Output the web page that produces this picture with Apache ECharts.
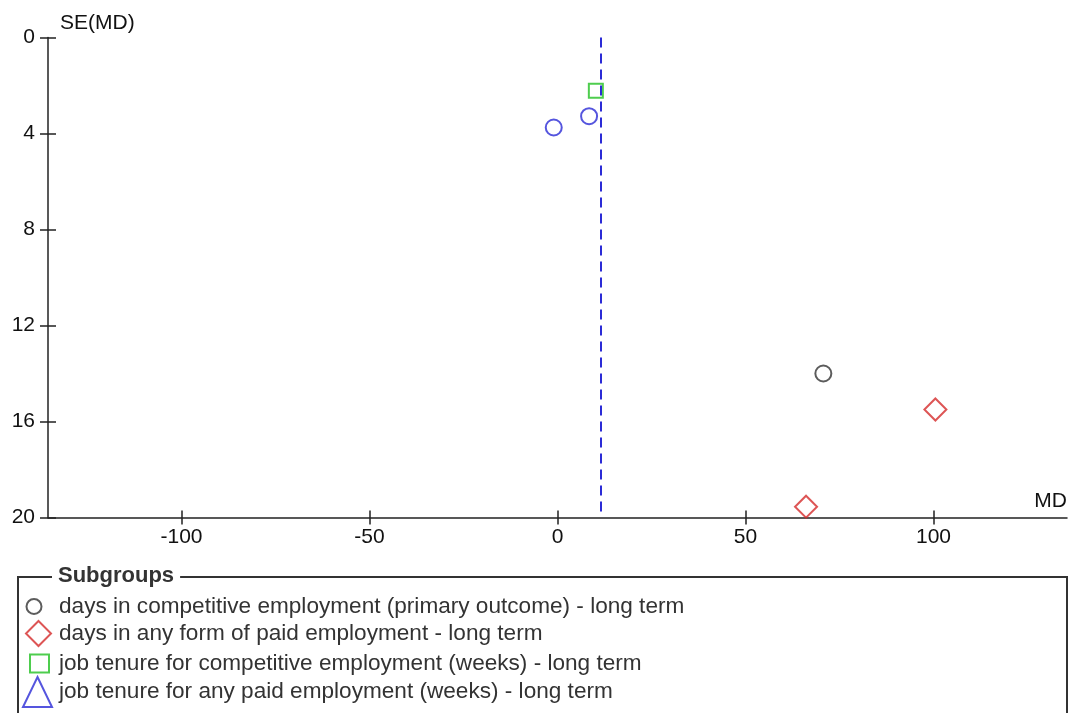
<!DOCTYPE html>
<html>
<head>
<meta charset="utf-8">
<title>Funnel plot</title>
<script src="https://cdn.jsdelivr.net/npm/echarts@6/dist/echarts.min.js"></script>
<style>
  html, body { margin: 0; padding: 0; background: #fff; }
  #chart { width: 1070px; height: 713px; }
</style>
</head>
<body>
<div id="chart"></div>
<script>
// Funnel plot: mean difference (MD) against its standard error, by subgroup
const FONT = '"Liberation Sans", Arial, sans-serif';

// Subgroup names (legend order)
const subgroupNames = [
  'days in competitive employment (primary outcome) - long term',
  'days in any form of paid employment - long term',
  'job tenure for competitive employment (weeks) - long term',
  'job tenure for any paid employment (weeks) - long term'
];

// Study estimates per subgroup: MD and SE(MD)
const compEmployMD = [70.7];
const compEmploySE = [14.0];
const paidEmployMD = [100.5, 66.1];
const paidEmploySE = [15.5, 19.55];
const tenureCompMD = [10.2];
const tenureCompSE = [2.22];
const tenureAnyMD = [];
const tenureAnySE = [];
const otherMD = [-1.0, 8.4];
const otherSE = [3.75, 3.28];

// Pooled estimate (dashed reference line)
const pooledMD = 11.4;

// Axis ticks
const mdTicks = [-100, -50, 0, 50, 100];
const seTickStep = 4;

const pairs = (xs, ys) => xs.map((x, i) => [x, ys[i]]);

const chart = echarts.init(document.getElementById('chart'));

const labelStyle = { fontFamily: FONT, fontSize: 21, color: '#111' };
const axisLineStyle = { color: '#222', width: 1.5 };

function legendFor(name, symbol, color, w, h, left, top, padLeft) {
  return {
    data: [{ name: name, icon: symbol }],
    orient: 'vertical',
    left: left,
    top: top,
    padding: 0,
    itemWidth: w,
    itemHeight: h,
    selectedMode: false,
    itemStyle: { color: '#fff', borderColor: color, borderWidth: 2 },
    textStyle: { fontFamily: FONT, fontSize: 22.6, color: '#333', padding: [0, 0, 0, padLeft] }
  };
}

const option = {
  animation: false,
  backgroundColor: '#fff',
  grid: { left: 48, top: 37.5, width: 1020, height: 480, containLabel: false },
  xAxis: [
    {
      type: 'value', min: -135.5, max: 135.5, position: 'bottom',
      name: 'MD', nameLocation: 'end', nameGap: 0,
      nameTextStyle: { fontFamily: FONT, fontSize: 21, color: '#111', align: 'right', verticalAlign: 'bottom', padding: [0, 0, 6, 0] },
      axisLine: { show: true, onZero: false, lineStyle: axisLineStyle },
      axisTick: { show: true, inside: false, length: 7, customValues: mdTicks, lineStyle: axisLineStyle },
      axisLabel: { show: true, margin: 9, customValues: mdTicks, ...labelStyle },
      splitLine: { show: false }
    },
    {
      type: 'value', min: -135.5, max: 135.5, position: 'bottom',
      axisLine: { show: false, onZero: false },
      axisTick: { show: true, inside: true, length: 7, customValues: mdTicks, lineStyle: axisLineStyle },
      axisLabel: { show: false },
      splitLine: { show: false }
    }
  ],
  yAxis: [
    {
      type: 'value', min: 0, max: 20, interval: seTickStep, inverse: true, position: 'left',
      name: 'SE(MD)', nameLocation: 'start', nameGap: 4,
      nameTextStyle: { fontFamily: FONT, fontSize: 21, color: '#111', align: 'left', verticalAlign: 'bottom', padding: [0, 0, 0, 12] },
      axisLine: { show: true, onZero: false, lineStyle: axisLineStyle },
      axisTick: { show: true, inside: false, length: 8, lineStyle: axisLineStyle },
      axisLabel: { show: true, margin: 13, ...labelStyle },
      splitLine: { show: false }
    },
    {
      type: 'value', min: 0, max: 20, interval: seTickStep, inverse: true, position: 'left',
      axisLine: { show: false, onZero: false },
      axisTick: { show: true, inside: true, length: 8, lineStyle: axisLineStyle },
      axisLabel: { show: false },
      splitLine: { show: false }
    }
  ],
  legend: [
    legendFor(subgroupNames[0], 'circle', '#333333', 15, 15, 25.5, 595, 12.5),
    legendFor(subgroupNames[1], 'diamond', '#d42a2a', 25, 25, 25, 620, 3),
    legendFor(subgroupNames[2], 'rect', '#22c022', 19, 18, 29, 652, 5),
    legendFor(subgroupNames[3], 'triangle', '#2b2bd6', 29, 30, 22, 676, 2)
  ],
  graphic: [
    {
      type: 'rect', z: 0, silent: true,
      shape: { x: 18, y: 577, width: 1049, height: 200 },
      style: { fill: 'none', stroke: '#333', lineWidth: 2 }
    },
    {
      type: 'text', z: 1, silent: true, left: 52, top: 565,
      style: {
        text: 'Subgroups', fontFamily: FONT, fontSize: 22, fontWeight: 'bold', fill: '#333',
        backgroundColor: '#fff', padding: [0, 6, 0, 6]
      }
    }
  ],
  series: [
    {
      name: subgroupNames[0], type: 'scatter', symbol: 'circle', symbolSize: 16,
      itemStyle: { color: 'rgba(255,255,255,0)', borderColor: '#333333', borderWidth: 2 },
      data: pairs(compEmployMD, compEmploySE),
      markLine: {
        silent: true, symbol: ['none', 'none'], label: { show: false },
        lineStyle: { color: '#2b2bd6', width: 2, type: [10, 6] },
        data: [{ xAxis: pooledMD }]
      }
    },
    {
      name: subgroupNames[1], type: 'scatter', symbol: 'diamond', symbolSize: 22,
      itemStyle: { color: 'rgba(255,255,255,0)', borderColor: '#d42a2a', borderWidth: 2 },
      data: pairs(paidEmployMD, paidEmploySE)
    },
    {
      name: subgroupNames[2], type: 'scatter', symbol: 'rect', symbolSize: 14,
      itemStyle: { color: 'rgba(255,255,255,0)', borderColor: '#22c022', borderWidth: 2 },
      data: pairs(tenureCompMD, tenureCompSE)
    },
    {
      name: subgroupNames[3], type: 'scatter', symbol: 'triangle', symbolSize: 18,
      itemStyle: { color: 'rgba(255,255,255,0)', borderColor: '#2b2bd6', borderWidth: 2 },
      data: pairs(tenureAnyMD, tenureAnySE)
    },
    {
      name: 'other subgroup', type: 'scatter', symbol: 'circle', symbolSize: 16,
      itemStyle: { color: 'rgba(255,255,255,0)', borderColor: '#2b2bd6', borderWidth: 2 },
      data: pairs(otherMD, otherSE)
    }
  ]
};

chart.setOption(option);
</script>
</body>
</html>
